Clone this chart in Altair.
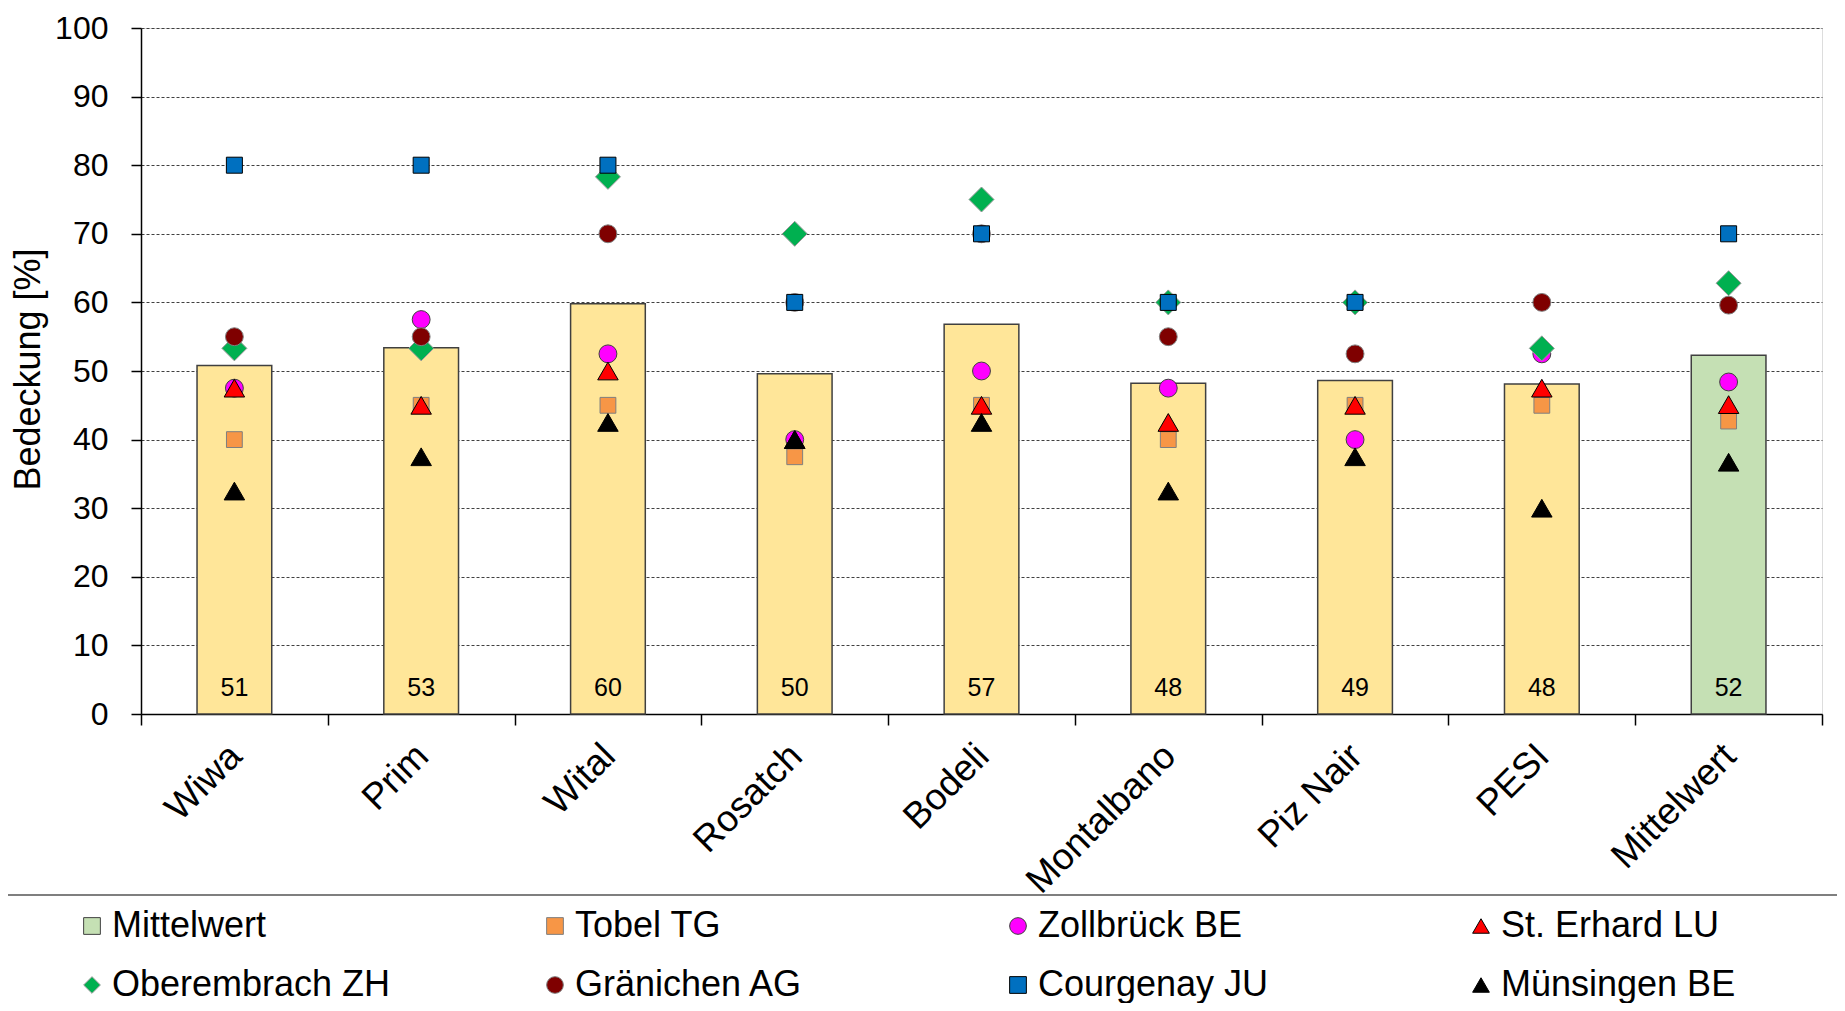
import altair as alt
import pandas as pd

# ---------------- data ----------------
categories = ["Wiwa", "Prim", "Wital", "Rosatch", "Bodeli", "Montalbano", "Piz Nair", "PESI", "Mittelwert"]
bar_values = [50.8, 53.4, 59.8, 49.6, 56.8, 48.2, 48.6, 48.1, 52.3]
bar_colors = ["#FFE699"] * 8 + ["#C5E0B4"]

series_names = ["Tobel TG", "Zollbrück BE", "St. Erhard LU", "Oberembrach ZH",
                "Gränichen AG", "Courgenay JU", "Münsingen BE"]
tobel = [40, 45, 45, 37.5, 45, 40, 45, 45, 42.7]
zollbrueck = [47.5, 57.5, 52.5, 40, 50, 47.5, 40, 52.5, 48.4]
st_erhard = [47.5, 45, 50, 40, 45, 42.5, 45, 47.5, 45.1]
oberembrach = [53.3, 53.3, 78.3, 70, 75, 60, 60, 53.3, 62.8]
graenichen = [55, 55, 70, 60, 70, 55, 52.5, 60, 59.6]
courgenay = [80, 80, 80, 60, 70, 60, 60, None, 70]
muensingen = [32.5, 37.5, 42.5, 40, 42.5, 32.5, 37.5, 30, 36.7]
series_values = [tobel, zollbrueck, st_erhard, oberembrach, graenichen, courgenay, muensingen]

legend_names = ["Mittelwert"] + series_names
legend_shapes = ["square", "square", "circle", "triangle-up", "diamond", "circle", "square", "triangle-up"]
legend_fills = ["#C5E0B4", "#F79646", "#FF00FF", "#FF0000", "#00B050", "#7F0000", "#0070C0", "#000000"]
legend_strokes = ["#404040", "#7F7F7F", "#404040", "#000000", "#9A9A9A", "#7F7F7F", "#000000", "#000000"]
marker_sizes = [300, 250, 320, 420, 625, 320, 256, 420]
size_of = dict(zip(legend_names, marker_sizes))

# ---------------- tables ----------------
bars = pd.DataFrame({"Ort": categories, "Wert": bar_values, "Farbe": bar_colors})
rows = []
for name, vals in zip(series_names, series_values):
    for cat, v in zip(categories, vals):
        if v is not None:
            rows.append({"Ort": cat, "Wert": v, "Serie": name, "Groesse": size_of[name]})
points = pd.DataFrame(rows)

FONT = "Liberation Sans"

x_enc = alt.X(
    "Ort:N", sort=categories,
    scale=alt.Scale(paddingInner=0, paddingOuter=0),
    axis=alt.Axis(title=None, labelAngle=-45, labelAlign="right", labelBaseline="alphabetic",
                  labelFontSize=37, labelPadding=33, labelOffset=9, labelLimit=500,
                  tickBand="extent", tickSize=11,
                  tickColor="black", tickWidth=1.5, domainColor="black", domainWidth=1.5,
                  labelColor="black", grid=False, labelFont=FONT),
)
y_enc = alt.Y(
    "Wert:Q",
    scale=alt.Scale(domain=[0, 100], nice=False),
    axis=alt.Axis(values=list(range(0, 101, 10)), title="Bedeckung [%]",
                  labelFontSize=32, labelPadding=23, labelColor="black", labelFont=FONT,
                  tickSize=10, tickColor="black", tickWidth=1.5,
                  domainColor="black", domainWidth=1.5,
                  grid=True, gridColor="#404040", gridDash=[3, 2], gridWidth=1,
                  titleFontSize=36, titleFontWeight="normal", titleFont=FONT, titleColor="black",
                  titleAngle=-90, titleX=-113, titleY=341, titleAlign="center", titleBaseline="middle"),
)

bar_layer = alt.Chart(bars).mark_bar(
    width=alt.RelativeBandSize(0.4), stroke="#404040", strokeWidth=1.5
).encode(x=x_enc, y=y_enc, fill=alt.Fill("Farbe:N", scale=None))

label_layer = alt.Chart(bars).mark_text(
    fontSize=25, dy=-26, baseline="middle", color="black", font=FONT
).encode(x=alt.X("Ort:N", sort=categories), y=alt.datum(0), text=alt.Text("Wert:Q", format=".0f"))

leg = alt.Legend(
    title=None, orient="none", legendX=-67, legendY=880, columns=4, direction="horizontal",
    columnPadding=146, rowPadding=23, gridAlign="all", symbolSize=280, symbolStrokeWidth=1,
    labelFontSize=36, labelFont=FONT, labelColor="black", labelOffset=2, padding=0,
    labelLimit=400,
)

point_layer = alt.Chart(points).mark_point(filled=True, opacity=1, strokeWidth=1).encode(
    x=alt.X("Ort:N", sort=categories),
    y=alt.Y("Wert:Q"),
    shape=alt.Shape("Serie:N", scale=alt.Scale(domain=legend_names, range=legend_shapes), legend=leg),
    fill=alt.Fill("Serie:N", scale=alt.Scale(domain=legend_names, range=legend_fills), legend=leg),
    stroke=alt.Stroke("Serie:N", scale=alt.Scale(domain=legend_names, range=legend_strokes), legend=leg),
    size=alt.Size("Groesse:Q", scale=None, legend=None),
)

sep_layer = alt.Chart(pd.DataFrame({"s": [0]})).mark_rule(color="#7F7F7F", strokeWidth=2).encode(
    x=alt.value(-133), x2=alt.value(1696), y=alt.value(867)
)

chart = alt.layer(bar_layer, label_layer, point_layer, sep_layer).properties(
    width=1681, height=686,
    autosize=alt.AutoSizeParams(type="none"),
    padding={"left": 133, "top": 20, "right": 15, "bottom": 289},
).configure_view(stroke=None).configure(font=FONT, background="white")

chart.save("out.html", embed_options={"renderer": "svg", "actions": False})
